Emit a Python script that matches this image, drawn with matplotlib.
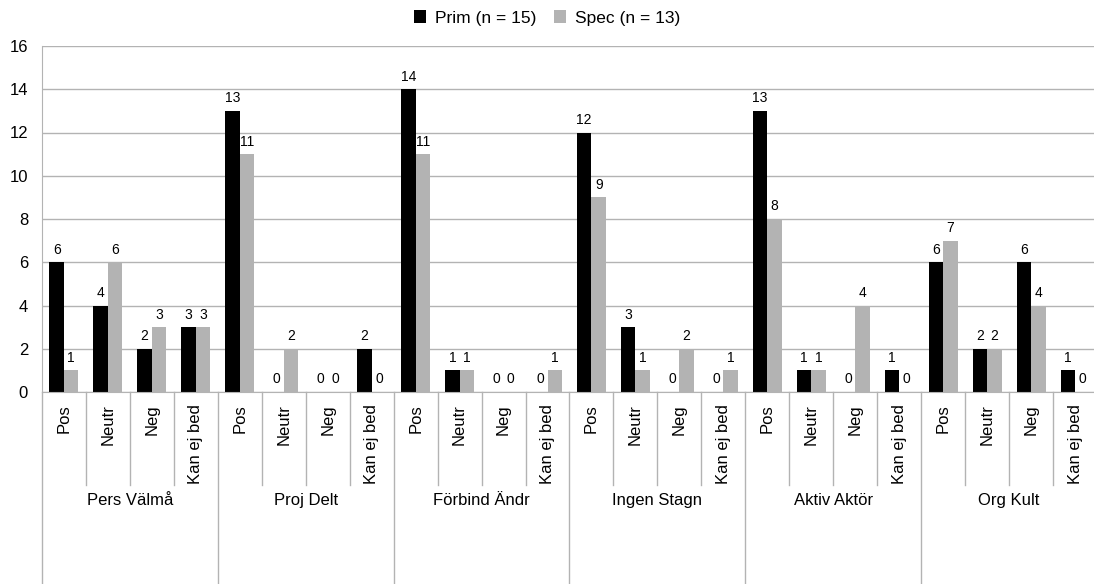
import matplotlib.pyplot as plt
import matplotlib.transforms as mtransforms
import numpy as np

#
# Data
#
groups = ['Pers Välmå', 'Proj Delt', 'Förbind Ändr', 'Ingen Stagn', 'Aktiv Aktör', 'Org Kult']
answers = ['Pos', 'Neutr', 'Neg', 'Kan ej bed']
prim = [6, 4, 2, 3,
        13, 0, 0, 2,
        14, 1, 0, 0,
        12, 3, 0, 0,
        13, 1, 0, 1,
        6, 2, 6, 1]
spec = [1, 6, 3, 3,
        11, 2, 0, 0,
        11, 1, 0, 1,
        9, 1, 2, 1,
        8, 1, 4, 0,
        7, 2, 4, 0]
series_names = ['Prim (n = 15)', 'Spec (n = 13)']

plt.rcParams['font.family'] = ['Liberation Sans', 'DejaVu Sans']

W, H = 1094, 584
fig = plt.figure(figsize=(W / 100, H / 100), dpi=100)
ax_left, ax_right, ax_top, ax_bottom = 42, 1097, 46, 392
ax = fig.add_axes([ax_left / W, 1 - ax_bottom / H, (ax_right - ax_left) / W, (ax_bottom - ax_top) / H])

n = len(prim)
x = np.arange(n)
bw = 0.33
grid_col = '#b3b3b3'

b1 = ax.bar(x - bw / 2, prim, bw, color='#000000', label=series_names[0])
b2 = ax.bar(x + bw / 2, spec, bw, color='#b3b3b3', label=series_names[1])

# value labels above each bar
for bars, vals in ((b1, prim), (b2, spec)):
    for rect, v in zip(bars, vals):
        ax.annotate(str(v), (rect.get_x() + rect.get_width() / 2, v), xytext=(0, 4),
                    textcoords='offset points', ha='center', va='bottom', fontsize=10)

ax.set_xlim(-0.5, n - 0.5)
ax.set_ylim(0, 16)
ax.set_yticks(range(0, 17, 2))
ax.tick_params(axis='y', length=0, pad=10, labelsize=12)
ax.set_xticks([])
ax.yaxis.grid(True, color=grid_col, linewidth=1)
ax.set_axisbelow(True)
for s in ('top', 'right'):
    ax.spines[s].set_visible(False)
ax.spines['left'].set_color(grid_col)
ax.spines['bottom'].set_color(grid_col)

# category axis: answer labels, separators and group names
trans = mtransforms.blended_transform_factory(ax.transData, fig.transFigure)
y_axis = 1 - ax_bottom / H
y_short = 1 - 485 / H
for i in range(n + 1):
    xs = i - 0.5
    y_end = 0 if i % len(answers) == 0 else y_short
    ax.plot([xs, xs], [y_axis, y_end], color=grid_col, lw=1, transform=trans, clip_on=False)

for i in range(n):
    ax.text(i, 1 - 404 / H, answers[i % len(answers)], rotation=90, ha='center', va='top',
            fontsize=12, transform=trans)

for g, name in enumerate(groups):
    xc = g * len(answers) + (len(answers) - 1) / 2
    ax.text(xc, 1 - 505 / H, name, ha='center', va='baseline', fontsize=12, transform=trans)

fig.legend(handles=[b1, b2], loc='center', bbox_to_anchor=(0.5, 1 - 18 / H), ncol=2,
           frameon=False, fontsize=12.5, handlelength=0.7, handleheight=0.7,
           handletextpad=0.5, columnspacing=1.0)

fig.savefig('out.png', dpi=100)
